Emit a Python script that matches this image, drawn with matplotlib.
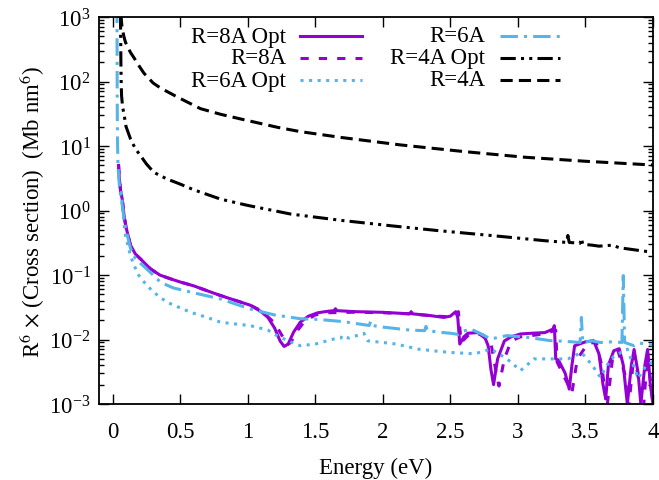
import matplotlib
matplotlib.use("Agg")
import matplotlib.pyplot as plt
from matplotlib.lines import Line2D
from matplotlib.ticker import FixedLocator, LogFormatterMathtext, NullFormatter

plt.rcParams['font.family'] = ['Liberation Serif', 'DejaVu Serif']
plt.rcParams['mathtext.fontset'] = 'stix'

# ---------------- data ----------------
e_r8opt = [0.045, 0.05, 0.06, 0.072, 0.085, 0.1, 0.133, 0.17, 0.21, 0.28, 0.35, 0.41, 0.5, 0.6, 0.7,
           0.8, 0.9, 1.02, 1.1, 1.15, 1.2, 1.24, 1.27, 1.3, 1.34, 1.39, 1.45, 1.52, 1.6, 1.64, 1.65,
           1.66, 1.8, 2.0, 2.2, 2.21, 2.22, 2.35, 2.45, 2.5, 2.54, 2.555, 2.57, 2.6, 2.63, 2.7, 2.75,
           2.78, 2.8, 2.82, 2.85, 2.9, 2.95, 3.02, 3.1, 3.2, 3.26, 3.27, 3.28, 3.3, 3.35, 3.38, 3.4,
           3.42, 3.5, 3.56, 3.6, 3.63, 3.65, 3.67, 3.71, 3.75, 3.78, 3.81, 3.84, 3.86, 3.89, 3.91,
           3.94, 3.96, 3.98, 4.0]
v_r8opt = [5.0, 3.2, 2.0, 1.5, 0.85, 0.55, 0.29, 0.21, 0.175, 0.125, 0.10, 0.09, 0.078, 0.068, 0.057,
           0.048, 0.041, 0.034, 0.027, 0.022, 0.015, 0.0095, 0.0078, 0.0085, 0.013, 0.0186, 0.023,
           0.026, 0.0275, 0.028, 0.030, 0.028, 0.027, 0.0264, 0.025, 0.027, 0.025, 0.0235, 0.022,
           0.023, 0.027, 0.022, 0.0085, 0.011, 0.0125, 0.0128, 0.0115, 0.008, 0.0035, 0.002, 0.005,
           0.0095, 0.011, 0.0122, 0.0125, 0.0128, 0.0145, 0.0164, 0.005, 0.0048, 0.003, 0.0017, 0.004,
           0.008, 0.0092, 0.0096, 0.006, 0.002, 0.0012, 0.004, 0.0067, 0.0072, 0.004, 0.001, 0.004,
           0.007, 0.003, 0.001, 0.004, 0.007, 0.002, 0.001]

e_r8 = [0.045, 0.05, 0.06, 0.072, 0.085, 0.1, 0.133, 0.17, 0.21, 0.28, 0.35, 0.41, 0.5, 0.6, 0.7,
        0.8, 0.9, 1.02, 1.1, 1.2, 1.26, 1.29, 1.32, 1.36, 1.42, 1.5, 1.6, 1.8, 2.0, 2.2, 2.4, 2.5,
        2.56, 2.58, 2.64, 2.72, 2.8, 2.84, 2.86, 2.9, 2.95, 3.02, 3.2, 3.28, 3.29, 3.33, 3.4, 3.44,
        3.52, 3.58, 3.62, 3.66, 3.7, 3.74, 3.79, 3.82, 3.86, 3.9, 3.93, 3.96, 4.0]
v_r8 = [5.0, 3.2, 2.0, 1.5, 0.85, 0.55, 0.29, 0.21, 0.175, 0.125, 0.10, 0.09, 0.078, 0.068, 0.057,
        0.048, 0.041, 0.034, 0.028, 0.018, 0.011, 0.0082, 0.009, 0.013, 0.019, 0.024, 0.026, 0.0265,
        0.026, 0.025, 0.023, 0.0225, 0.027, 0.009, 0.012, 0.012, 0.009, 0.003, 0.0019, 0.005, 0.0095,
        0.011, 0.0122, 0.014, 0.0045, 0.003, 0.0015, 0.005, 0.0088, 0.009, 0.004, 0.0009, 0.005,
        0.0068, 0.003, 0.0009, 0.006, 0.002, 0.0009, 0.006, 0.001]

e_r6opt = [0.065, 0.072, 0.085, 0.096, 0.115, 0.133, 0.16, 0.195, 0.24, 0.28, 0.34, 0.405, 0.5,
           0.578, 0.7, 0.8, 0.9, 1.02, 1.15, 1.2, 1.3, 1.39, 1.5, 1.64, 1.69, 1.7, 1.75, 1.86, 1.89,
           2.0, 2.1, 2.26, 2.4, 2.5, 2.68, 2.8, 2.92, 3.02, 3.12, 3.24, 3.37, 3.47, 3.55, 3.61, 3.66,
           3.71, 3.81, 3.89, 3.95, 4.0]
v_r6opt = [2.0, 1.3, 0.65, 0.41, 0.28, 0.2, 0.14, 0.098, 0.075, 0.061, 0.047, 0.0377, 0.031, 0.0264,
           0.022, 0.0185, 0.0175, 0.0164, 0.014, 0.012, 0.0095, 0.008, 0.0085, 0.0102, 0.0105,
           0.0115, 0.0105, 0.0125, 0.0095, 0.009, 0.0085, 0.0071, 0.0066, 0.0063, 0.006, 0.0071,
           0.005, 0.0033, 0.005, 0.005, 0.005, 0.0063, 0.004, 0.0026, 0.004, 0.0055, 0.0071, 0.0025,
           0.004, 0.0045]

e_r6 = [0.033, 0.034, 0.035, 0.037, 0.04, 0.045, 0.05, 0.06, 0.072, 0.085, 0.1, 0.133, 0.17, 0.21,
        0.28, 0.356, 0.45, 0.6, 0.8, 1.02, 1.1, 1.2, 1.39, 1.52, 1.7, 1.9, 1.91, 1.92, 2.01, 2.2,
        2.31, 2.32, 2.33, 2.43, 2.5, 2.56, 2.6, 2.65, 2.7, 2.8, 2.92, 3.07, 3.24, 3.3, 3.4, 3.46,
        3.47, 3.48, 3.55, 3.61, 3.7, 3.77, 3.78, 3.79, 3.86, 3.9, 4.0]
v_r6 = [1500, 200, 40, 12, 5.5, 3.5, 2.6, 1.7, 1.2, 0.75, 0.5, 0.26, 0.18, 0.15, 0.11, 0.077, 0.063,
        0.053, 0.0425, 0.0297, 0.027, 0.024, 0.021, 0.0205, 0.019, 0.0165, 0.019, 0.0165, 0.0155,
        0.014, 0.0137, 0.016, 0.0137, 0.0129, 0.0125, 0.012, 0.0135, 0.0146, 0.013, 0.0102, 0.0115,
        0.0108, 0.0096, 0.0095, 0.0092, 0.009, 0.022, 0.009, 0.0095, 0.009, 0.0092, 0.009, 0.098,
        0.009, 0.008, 0.0088, 0.0082]

e_r4opt = [0.059, 0.06, 0.062, 0.064, 0.067, 0.075, 0.084, 0.1, 0.133, 0.17, 0.207, 0.25, 0.306,
           0.4, 0.5, 0.6, 0.8, 1.0, 1.32, 1.7, 2.06, 2.4, 2.8, 3.2, 3.36, 3.37, 3.38, 3.46, 3.47,
           3.48, 3.55, 3.6, 3.7, 3.75, 3.91, 4.0]
v_r4opt = [1100, 600, 200, 100, 60, 40, 32, 20, 12.9, 9.0, 7.1, 5.3, 3.9, 3.1, 2.57, 2.1, 1.5,
           1.2, 0.88, 0.7, 0.58, 0.49, 0.41, 0.34, 0.32, 0.41, 0.32, 0.31, 0.37, 0.3, 0.29, 0.28,
           0.29, 0.265, 0.238, 0.225]

e_r4 = [0.062, 0.07, 0.084, 0.096, 0.133, 0.158, 0.2, 0.232, 0.3, 0.356, 0.49, 0.65, 0.8, 0.95,
        1.22, 1.39, 1.7, 2.13, 2.6, 3.05, 3.5, 4.0]
v_r4 = [1100, 700, 500, 405, 282, 235, 170, 135, 95, 79, 56, 38, 31, 26.2, 19.5, 16.7, 13.5, 10.4,
        8.2, 6.7, 5.8, 5.07]

labels = ['R=8A Opt', 'R=8A', 'R=6A Opt', 'R=6A', 'R=4A Opt', 'R=4A']
xtick_vals = [0, 0.5, 1, 1.5, 2, 2.5, 3, 3.5, 4]
xtick_labels = ['0', '0.5', '1', '1.5', '2', '2.5', '3', '3.5', '4']
ytick_vals = [1e-3, 1e-2, 1e-1, 1e0, 1e1, 1e2, 1e3]

# ---------------- styling ----------------
PURPLE = '#9400D3'
BLUE = '#56B4E9'
BLACK = '#000000'
LW = 2.2
styles = [
    dict(color=PURPLE, lw=LW, ls='-'),
    dict(color=PURPLE, lw=LW, ls=(0, (2.7, 3.3))),
    dict(color=BLUE, lw=LW, ls=(0, (1, 1.8))),
    dict(color=BLUE, lw=LW, ls=(0, (5.7, 2, 1, 2))),
    dict(color=BLACK, lw=LW, ls=(0, (5, 1.7, 1, 1.7, 1, 1.7))),
    dict(color=BLACK, lw=LW, ls=(0, (4, 2))),
]
series = [(e_r8opt, v_r8opt), (e_r8, v_r8), (e_r6opt, v_r6opt), (e_r6, v_r6),
          (e_r4opt, v_r4opt), (e_r4, v_r4)]

FS = 16.5
W, H = 659, 481
fig = plt.figure(figsize=(W / 100, H / 100), dpi=100)
ax = fig.add_axes([99 / W, 1 - 405 / H, 554 / W, 387 / H])

for (e, v), st in zip(series, styles):
    ax.plot(e, v, **st)

ax.set_yscale('log')
ax.set_xlim(-0.1, 4.0)
ax.set_ylim(1e-3, 1e3)

ax.set_xticks(xtick_vals)
ax.set_xticklabels(xtick_labels)
ax.yaxis.set_major_locator(FixedLocator(ytick_vals))
ax.yaxis.set_major_formatter(LogFormatterMathtext())
minor_y = [m * d for d in ytick_vals[:-1] for m in range(2, 10)]
ax.yaxis.set_minor_locator(FixedLocator(minor_y))
ax.yaxis.set_minor_formatter(NullFormatter())

ax.tick_params(which='both', direction='in', top=True, right=True, labelsize=FS, width=1)
ax.tick_params(which='major', length=7, pad=6)
ax.tick_params(axis='x', which='major', pad=12)
ax.tick_params(which='minor', length=3.5)
for s in ax.spines.values():
    s.set_linewidth(1.3)

ax.set_xlabel('Energy (eV)', fontsize=FS, labelpad=11)
ax.set_ylabel(r'R$^6$ $\times$ (Cross section)  (Mb nm$^6$)', fontsize=FS, labelpad=2)

# manual gnuplot-style legend (text right-aligned, sample to the right)
def ax_x(px):
    return (px - 99) / 554

def ax_y(py):
    return (405 - py) / 387

rows = [37, 58.5, 81]
cols = [(286, 300, 362), (485, 500, 560)]
for i, (lab, st) in enumerate(zip(labels, styles)):
    c, r = divmod(i, 3)
    tx, l0, l1 = cols[c]
    y = ax_y(rows[r])
    ax.text(ax_x(tx), y, lab, transform=ax.transAxes, ha='right', va='center', fontsize=FS)
    ax.add_line(Line2D([ax_x(l0), ax_x(l1)], [y, y], transform=ax.transAxes, **st))

fig.savefig('out.png', dpi=100)
